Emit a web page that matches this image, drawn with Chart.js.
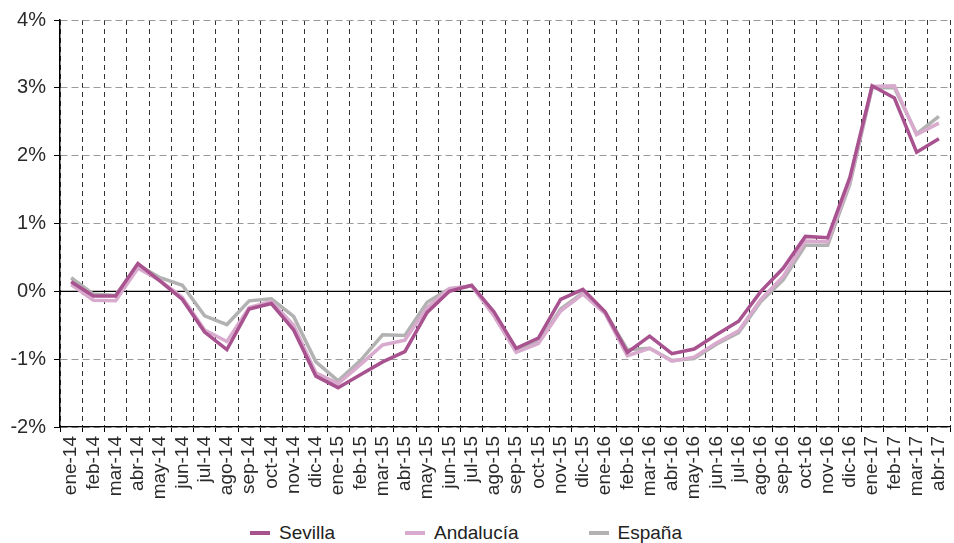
<!DOCTYPE html>
<html>
<head>
<meta charset="utf-8">
<script src="https://cdn.jsdelivr.net/npm/chart.js@4"></script>
<style>
  html, body { margin: 0; padding: 0; background: #fff; }
  #wrap { width: 954px; height: 543px; position: relative; }
  #chart-box { width: 954px; height: 518px; }
  #legend {
    position: absolute; left: 0; top: 520px; width: 954px; height: 25px;
    display: flex; justify-content: center; align-items: center;
    font-family: "Liberation Sans", Arial, sans-serif; font-size: 19px; color: #222;
    box-sizing: border-box; padding-right: 22px;
  }
  .leg-item { display: flex; align-items: center; margin: 0 35px; }
  .leg-mark { width: 20px; height: 4px; margin-right: 9px; }
</style>
</head>
<body>
<div id="wrap">
  <div id="chart-box"><canvas id="chart"></canvas></div>
  <div id="legend"></div>
</div>
<script>
const MONTHS = [
  "ene-14", "feb-14", "mar-14", "abr-14", "may-14", "jun-14", "jul-14", "ago-14", "sep-14", "oct-14", "nov-14", "dic-14",
  "ene-15", "feb-15", "mar-15", "abr-15", "may-15", "jun-15", "jul-15", "ago-15", "sep-15", "oct-15", "nov-15", "dic-15",
  "ene-16", "feb-16", "mar-16", "abr-16", "may-16", "jun-16", "jul-16", "ago-16", "sep-16", "oct-16", "nov-16", "dic-16",
  "ene-17", "feb-17", "mar-17", "abr-17"
];

// tasa de variacion interanual (%)
const SEVILLA = [
  0.14, -0.07, -0.07, 0.41, 0.15, -0.12, -0.60, -0.86, -0.26, -0.18, -0.57, -1.25,
  -1.42, -1.23, -1.04, -0.89, -0.31, 0.00, 0.09, -0.30, -0.84, -0.69, -0.12, 0.03,
  -0.30, -0.90, -0.66, -0.92, -0.85, -0.64, -0.44, 0.00, 0.34, 0.81, 0.79, 1.68,
  3.03, 2.85, 2.05, 2.25
];
const ANDALUCIA = [
  0.10, -0.13, -0.14, 0.34, 0.16, -0.09, -0.57, -0.74, -0.24, -0.15, -0.50, -1.20,
  -1.36, -1.08, -0.79, -0.72, -0.24, 0.04, 0.08, -0.36, -0.90, -0.77, -0.29, -0.04,
  -0.33, -0.95, -0.84, -1.03, -0.97, -0.76, -0.58, -0.12, 0.22, 0.74, 0.73, 1.63,
  3.02, 3.03, 2.31, 2.48
];
const ESPANA = [
  0.20, -0.04, -0.06, 0.39, 0.20, 0.09, -0.36, -0.49, -0.14, -0.11, -0.37, -1.04,
  -1.32, -1.02, -0.64, -0.65, -0.16, 0.04, 0.08, -0.33, -0.88, -0.75, -0.26, -0.02,
  -0.31, -0.86, -0.84, -1.02, -0.99, -0.78, -0.61, -0.15, 0.17, 0.68, 0.68, 1.58,
  3.00, 3.00, 2.32, 2.58
];

const Y_MIN = -2, Y_MAX = 4, Y_STEP = 1;

const FONT = "'Liberation Sans', Arial, sans-serif";

/* linea del 0% en negro, continua */
const zeroLine = {
  id: "zeroLine",
  beforeDatasetsDraw(chart) {
    const { ctx, chartArea, scales } = chart;
    const y = scales.y.getPixelForValue(0);
    ctx.save();
    ctx.strokeStyle = "#000";
    ctx.lineWidth = 1.3;
    ctx.beginPath();
    ctx.moveTo(chartArea.left, y);
    ctx.lineTo(chartArea.right, y);
    ctx.stroke();
    ctx.restore();
  }
};

const series = [
  { label: "Sevilla", data: SEVILLA, color: "#a8528f" },
  { label: "Andalucía", data: ANDALUCIA, color: "#d8aacd" },
  { label: "España", data: ESPANA, color: "#b2b2b2" }
];

const chart = new Chart(document.getElementById("chart"), {
  type: "line",
  data: {
    labels: MONTHS,
    datasets: series.map(s => ({
      label: s.label,
      data: s.data,
      borderColor: s.color,
      backgroundColor: s.color,
      borderWidth: 3.5,
      pointRadius: 0,
      tension: 0,
      fill: false
    }))
  },
  options: {
    responsive: true,
    maintainAspectRatio: false,
    animation: false,
    layout: { padding: { top: 16, right: 4, left: 0, bottom: 0 } },
    plugins: {
      legend: { display: false },
      tooltip: { enabled: false }
    },
    scales: {
      x: {
        offset: true,
        grid: {
          offset: true,
          color: "#333",
          lineWidth: 1,
          tickColor: "#000",
          tickLength: 5,
          tickBorderDash: []
        },
        border: { display: true, color: "#000", width: 1.3, dash: [5, 4] },
        ticks: {
          autoSkip: false,
          minRotation: 90,
          maxRotation: 90,
          padding: 4,
          color: "#2a2a2a",
          font: { family: FONT, size: 19 }
        },
        afterFit(scale) {
          scale.height = 91;
          scale.paddingLeft = 0;
          scale.paddingRight = 0;
        }
      },
      y: {
        min: Y_MIN,
        max: Y_MAX,
        grid: {
          color: ctx => ctx.tick && ctx.tick.value === 0 ? "rgba(0,0,0,0)" : "#9a9a9a",
          lineWidth: 1,
          tickColor: "#000",
          tickLength: 6,
          tickBorderDash: []
        },
        border: { display: true, color: "#000", width: 1.5, dash: [7, 4] },
        ticks: {
          stepSize: Y_STEP,
          padding: 8,
          color: "#2a2a2a",
          font: { family: FONT, size: 20 },
          callback: v => v + "%"
        },
        afterFit(scale) {
          scale.width = 60;
        }
      }
    }
  },
  plugins: [zeroLine]
});

/* leyenda */
const legendEl = document.getElementById("legend");
legendEl.innerHTML = series.map(s => `
  <div class="leg-item">
    <div class="leg-mark" style="background:${s.color}"></div>
    <span>${s.label}</span>
  </div>`).join("");
</script>
</body>
</html>
